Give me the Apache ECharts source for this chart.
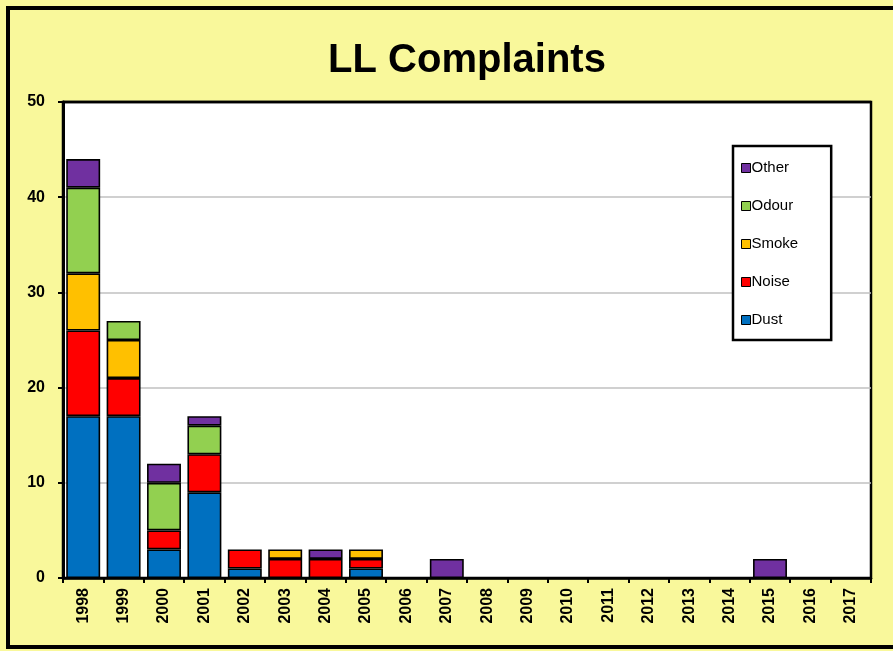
<!DOCTYPE html>
<html>
<head>
<meta charset="utf-8">
<script src="https://cdn.jsdelivr.net/npm/echarts@6/dist/echarts.min.js"></script>
<style>html,body{margin:0;padding:0;background:#fff}#c{width:893px;height:651px}</style>
</head>
<body>
<div id="c"></div>
<script>
const years = ['1998','1999','2000','2001','2002','2003','2004','2005','2006','2007','2008','2009','2010','2011','2012','2013','2014','2015','2016','2017'];
const dust  = [17,17,3,9,1,0,0,1,0,0,0,0,0,0,0,0,0,0,0,0];
const noise = [9,4,2,4,2,2,2,1,0,0,0,0,0,0,0,0,0,0,0,0];
const smoke = [6,4,0,0,0,1,0,1,0,0,0,0,0,0,0,0,0,0,0,0];
const odour = [9,2,5,3,0,0,0,0,0,0,0,0,0,0,0,0,0,0,0,0];
const other = [3,0,2,1,0,0,1,0,0,2,0,0,0,0,0,0,0,2,0,0];
const yTicks = [0,10,20,30,40,50];

const seriesDefs = [
  {name:'Dust', data:dust, color:'#0070C0'},
  {name:'Noise', data:noise, color:'#FF0000'},
  {name:'Smoke', data:smoke, color:'#FFC000'},
  {name:'Odour', data:odour, color:'#92D050'},
  {name:'Other', data:other, color:'#7030A0'}
];

const chart = echarts.init(document.getElementById('c'));
chart.setOption({
  backgroundColor: '#F9F89B',
  animation: false,
  title: {
    text: 'LL Complaints',
    left: 462, top: 36, textAlign: 'center',
    textStyle: {fontFamily: 'Liberation Sans, Arial', fontWeight: 'bold', fontSize: 40, color: '#000'}
  },
  graphic: [{
    type: 'rect', shape: {x: 8, y: 8, width: 900, height: 639},
    style: {fill: 'none', stroke: '#000', lineWidth: 4}, z: 100
  }, {
    type: 'line', shape: {x1: 63, y1: 102, x2: 871, y2: 102},
    style: {stroke: '#000', lineWidth: 2.5}, z: 50
  }],
  grid: {left: 63, right: 22, top: 102, bottom: 73, show: true, backgroundColor: '#fff', borderColor: '#000', borderWidth: 2.5},
  legend: {
    data: ['Other','Odour','Smoke','Noise','Dust'],
    orient: 'vertical', left: 733, top: 146,
    width: 98,
    backgroundColor: '#fff', borderColor: '#000', borderWidth: 2.5,
    padding: [14, 33, 12, 8],
    itemWidth: 9, itemHeight: 9, itemGap: 22,
    icon: 'rect',
    itemStyle: {borderColor: '#000', borderWidth: 1},
    textStyle: {fontFamily: 'Liberation Sans, Arial', fontSize: 15, color: '#000', padding: [0,0,0,-4], lineHeight: 16}
  },
  xAxis: {
    type: 'category', data: years,
    axisLine: {lineStyle: {color: '#000', width: 2.5}},
    axisTick: {show: true, length: 5, lineStyle: {color: '#000', width: 2}},
    axisLabel: {rotate: 90, fontFamily: 'Liberation Sans, Arial', fontWeight: 'bold', fontSize: 16, color: '#000', margin: 10, interval: 0}
  },
  yAxis: {
    type: 'value', min: 0, max: 50, interval: 10,
    axisLine: {show: true, lineStyle: {color: '#000', width: 3}},
    axisTick: {show: true, length: 5, lineStyle: {color: '#000', width: 2}},
    axisLabel: {fontFamily: 'Liberation Sans, Arial', fontWeight: 'bold', fontSize: 16, color: '#000', margin: 18},
    splitLine: {showMaxLine: false, showMinLine: false, lineStyle: {color: '#C0C0C0', width: 1.5}}
  },
  series: seriesDefs.map(s => ({
    name: s.name, type: 'bar', stack: 'all',
    barCategoryGap: '16%',
    data: s.data.map(v => v === 0 ? null : v),
    itemStyle: {color: s.color, borderColor: '#000', borderWidth: 1.6}
  }))
});
</script>
</body>
</html>
